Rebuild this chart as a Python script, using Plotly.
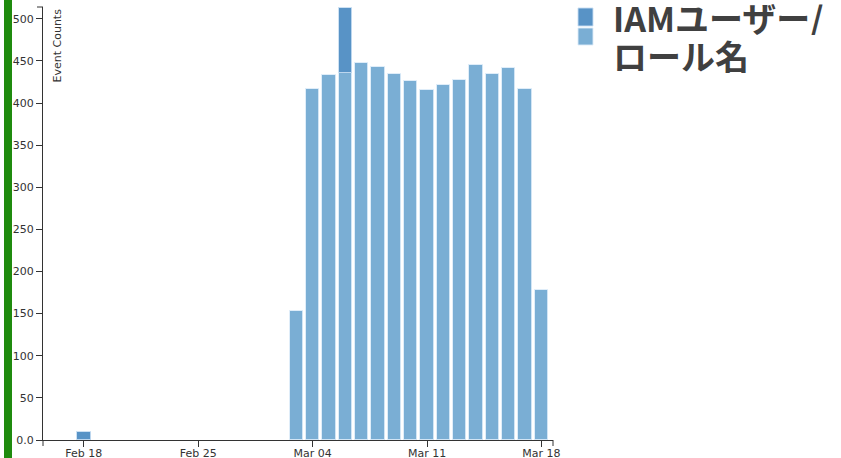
import pandas as pd
import plotly.graph_objects as go

# Daily event counts per identity type
light_dates = pd.date_range("2023-03-03", "2023-03-18", freq="D")
light_counts = [153, 417, 433, 436, 447, 443, 434, 426, 415, 421, 427, 445, 434, 442, 417, 178]

dark_dates = pd.to_datetime(["2023-02-18", "2023-03-06"])
dark_counts = [10, 77]

tick_dates = pd.to_datetime(["2023-02-18", "2023-02-25", "2023-03-04", "2023-03-11", "2023-03-18"])
y_ticks = [0, 50, 100, 150, 200, 250, 300, 350, 400, 450, 500]
y_tick_text = ["0.0"] + [str(v) for v in y_ticks[1:]]

legend_lines = ["IAMユーザー/", "ロール名"]

DARK = "#5893c6"
LIGHT = "#7aaed4"
DAY_MS = 86400000
bar_width = 0.82 * DAY_MS

# Plot area in pixels
L, R, T, B = 43, 553, 7, 440
PW, PH = R - L, B - T


def px_x(x):
    return (x - L) / PW


def px_y(y):
    return (B - y) / PH


fig = go.Figure()
fig.add_trace(go.Bar(
    x=light_dates, y=light_counts, width=bar_width, name="role",
    marker=dict(color=LIGHT, line=dict(color="rgba(220,235,248,0.9)", width=1)),
))
fig.add_trace(go.Bar(
    x=dark_dates, y=dark_counts, width=bar_width, name="user",
    marker=dict(color=DARK, line=dict(color="rgba(200,222,242,0.9)", width=1)),
))

axis_font = dict(family="DejaVu Sans", size=11, color="#333333")

fig.update_layout(
    width=841, height=458,
    margin=dict(l=L, r=841 - R, t=T, b=458 - B),
    barmode="stack",
    bargap=0,
    showlegend=False,
    plot_bgcolor="white",
    paper_bgcolor="white",
    xaxis=dict(
        type="date",
        range=["2023-02-15 12:00", "2023-03-18 17:00"],
        tickvals=tick_dates,
        tickformat="%b %d",
        ticks="outside", ticklen=6, tickcolor="#333",
        ticklabelstandoff=-3,
        showline=True, linecolor="#333", linewidth=1.2,
        showgrid=False, zeroline=False, automargin=False,
        tickfont=axis_font,
    ),
    yaxis=dict(
        range=[0, 514],
        tickvals=y_ticks, ticktext=y_tick_text,
        ticks="outside", ticklen=6, tickcolor="#333",
        showline=True, linecolor="#333", linewidth=1,
        showgrid=False, zeroline=False, automargin=False,
        tickfont=axis_font,
    ),
)

# Outer ticks at the axis ends
line_style = dict(color="#333", width=1)
fig.add_shape(type="line", xref="paper", yref="paper", x0=-6 / PW, x1=0, y0=1, y1=1, line=line_style)
fig.add_shape(type="line", xref="paper", yref="paper", x0=0, x1=0, y0=0, y1=-6 / PH, line=line_style)
fig.add_shape(type="line", xref="paper", yref="paper", x0=1, x1=1, y0=0, y1=-6 / PH, line=line_style)

# Green selection stripe on the left edge
fig.add_shape(type="rect", xref="paper", yref="paper",
              x0=px_x(4), x1=px_x(12), y0=px_y(460), y1=px_y(-2),
              fillcolor="#1f8b0e", line=dict(width=0), layer="above")

# Legend swatches
fig.add_shape(type="rect", xref="paper", yref="paper",
              x0=px_x(578), x1=px_x(593), y0=px_y(26), y1=px_y(8),
              fillcolor=DARK, line=dict(color="rgba(200,222,242,0.9)", width=1))
fig.add_shape(type="rect", xref="paper", yref="paper",
              x0=px_x(578), x1=px_x(593), y0=px_y(45), y1=px_y(28),
              fillcolor=LIGHT, line=dict(color="rgba(220,235,248,0.9)", width=1))

legend_font = dict(family="Noto Sans CJK JP", size=34, color="#404040", weight="bold")
for line_text, center_y in zip(legend_lines, [17, 55]):
    fig.add_annotation(
        text=line_text, xref="paper", yref="paper",
        x=px_x(611), y=px_y(center_y), xanchor="left", yanchor="middle",
        height=36, showarrow=False, align="left", font=legend_font,
    )

# Axis title placed inside the plot, beside the y axis
fig.add_annotation(
    text="Event Counts", xref="paper", yref="paper",
    x=px_x(48), y=px_y(7), xanchor="left", yanchor="top",
    textangle=-90, showarrow=False,
    font=dict(family="DejaVu Sans", size=11, color="#333333"),
)

fig.write_html("out.html")
